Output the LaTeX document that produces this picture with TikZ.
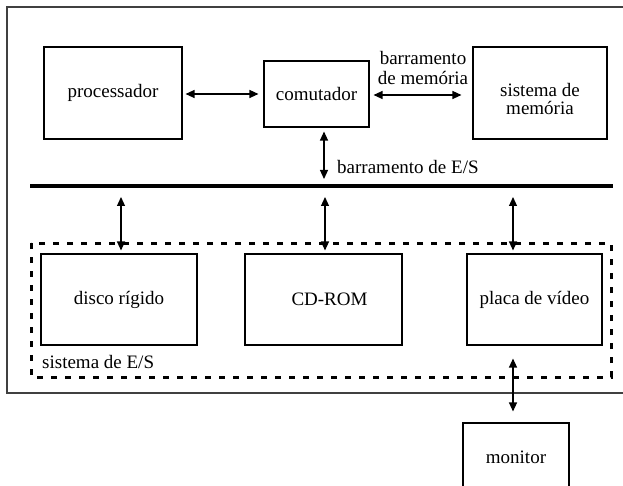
\documentclass[tikz,border=0pt]{standalone}
\usepackage{fontspec}
\setmainfont{Liberation Serif}
\usetikzlibrary{arrows.meta}
\begin{document}
\begin{tikzpicture}[x=1pt,y=-1pt,
  box/.style={draw=black,line width=1.1pt,rectangle,inner sep=0pt,font=\fontsize{19}{18}\selectfont},
  txt/.style={inner sep=0pt,font=\fontsize{19}{20}\selectfont},
  dbl/.style={{Triangle[length=9pt,width=8pt]}-{Triangle[length=9pt,width=8pt]},line width=1.2pt},
  ]
\useasboundingbox (0,0) rectangle (623,486);
% outer frame
\draw[line width=1.4pt,draw=black!75] (640,7) -- (7,7) -- (7,393) -- (640,393);
% top row
\node[box,minimum width=138pt,minimum height=92pt] (proc) at (113,93) {processador};
\node[box,minimum width=105pt,minimum height=66pt] (comut) at (316.5,94) {comutador};
\node[box,minimum width=134pt,minimum height=92pt,
  label={[txt,align=center,font=\fontsize{19}{18}\selectfont,yshift=-6pt]center:sistema de\\memória}] (mem) at (540,93) {};
\node[txt,align=center] (membus) at (423,68) {barramento\\de memória};
% bus
\coordinate (busL) at (30,186);
\coordinate (busR) at (613,186);
\draw[line width=3.6pt] (busL) -- (busR);
\node[txt,anchor=base west] (iobus) at (337,173.5) {barramento de E/S};
\coordinate (b1) at (121,186);
\coordinate (b2) at (325,186);
\coordinate (b3) at (513,186);
\coordinate (bc) at (324,186);
\coordinate (r1) at (0,94);
\coordinate (r2) at (0,95);
% I/O system
\draw[line width=3pt,dash pattern=on 6pt off 8pt] (31,243) rectangle (611,377);
\node[box,minimum width=156pt,minimum height=91pt] (disco) at (119,299.5) {disco rígido};
\node[box,minimum width=157pt,minimum height=91pt,
  label={[txt,xshift=6pt]center:CD-ROM}] (cdrom) at (323.5,299.5) {};
\node[box,minimum width=135pt,minimum height=91pt] (placa) at (534.5,299.5) {placa de vídeo};
\node[txt,anchor=west] (iosys) at (42,362) {sistema de E/S};
\node[box,minimum width=106pt,minimum height=68pt] (monitor) at (516,457) {monitor};
% connectors
\draw[dbl,shorten <=3pt,shorten >=5pt] (proc.east |- r1) -- (comut.west |- r1);
\draw[dbl,shorten <=4pt,shorten >=11pt] (comut.east |- r2) -- (mem.west |- r2);
\draw[dbl,shorten <=4pt,shorten >=7pt] (comut.south -| bc) -- (bc);
\draw[dbl,shorten <=11pt,shorten >=3pt] (b1) -- (b1 |- disco.north);
\draw[dbl,shorten <=11pt,shorten >=3pt] (b2) -- (b2 |- cdrom.north);
\draw[dbl,shorten <=11pt,shorten >=3pt] (b3) -- (b3 |- placa.north);
\draw[dbl,shorten <=13pt,shorten >=11pt] (b3 |- placa.south) -- (b3 |- monitor.north);
\end{tikzpicture}
\end{document}
